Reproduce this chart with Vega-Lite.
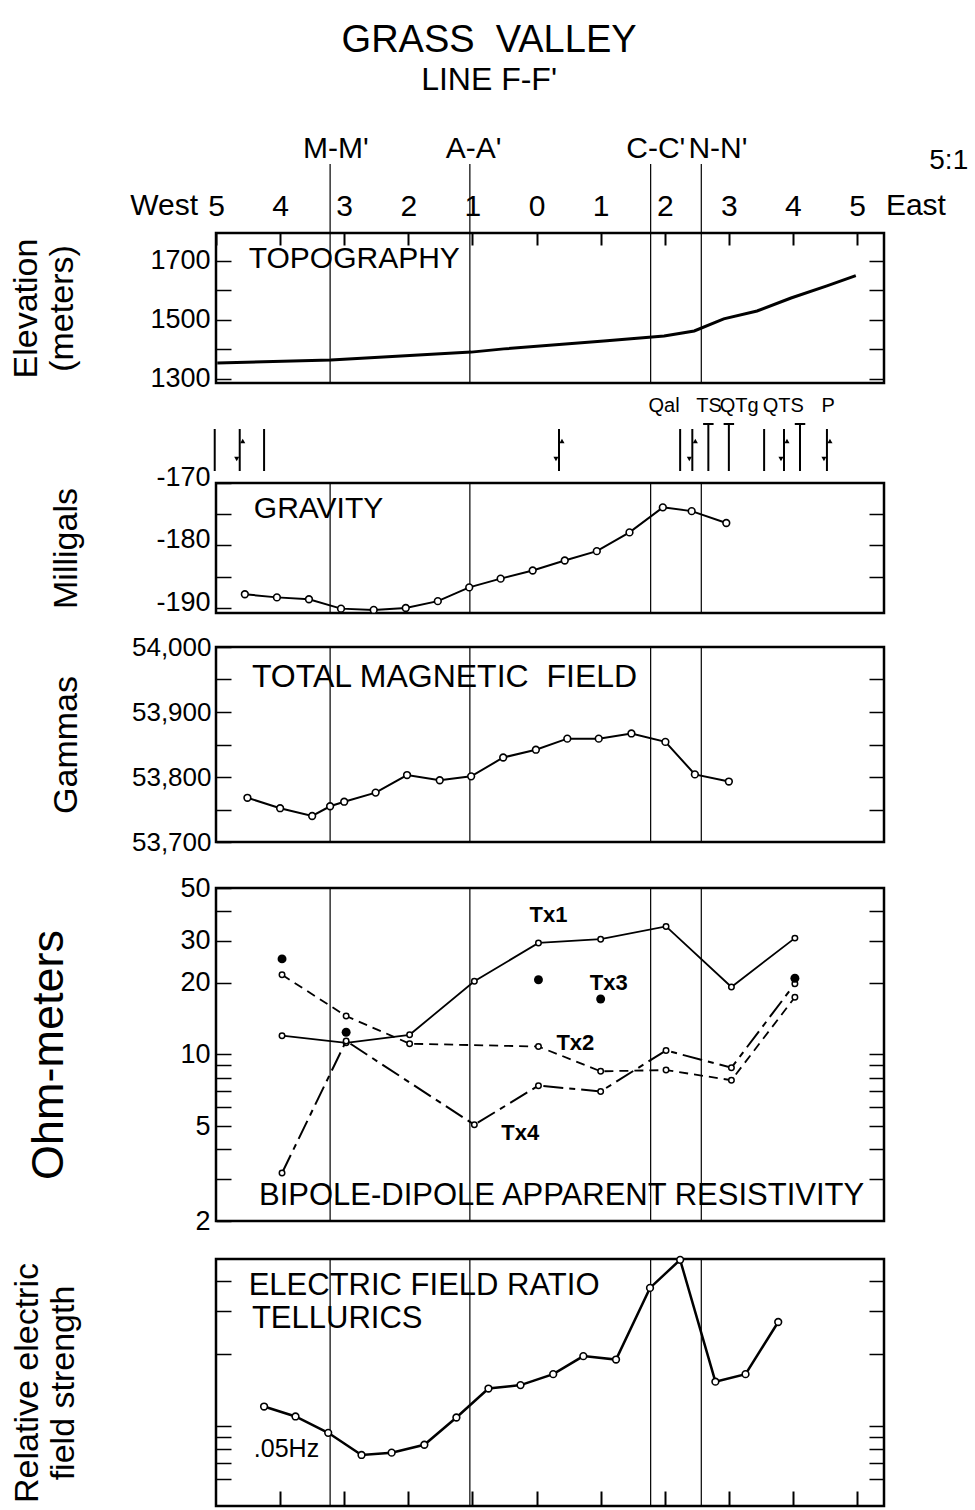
{
  "$schema": "https://vega.github.io/schema/vega-lite/v6.json",
  "padding": {"left": 8, "top": 21, "right": 5, "bottom": 0},
  "background": "white",
  "config": {
    "font": "Liberation Sans",
    "view": {"stroke": "black", "strokeWidth": 2.5},
    "axis": {"labelFont": "Liberation Sans", "titleFont": "Liberation Sans", "labelColor": "black", "titleColor": "black", "tickColor": "black", "domain": false, "grid": false, "titleFontWeight": "normal", "labelFontSize": 26, "titleFontSize": 34, "tickWidth": 1.5, "labelOverlap": false, "labelFlush": false},
    "text": {"font": "Liberation Sans", "color": "black"},
    "title": {"color": "black", "subtitleColor": "black", "font": "Liberation Sans", "subtitleFont": "Liberation Sans", "fontWeight": "normal"}
  },
  "title": {"text": "GRASS\u00a0\u00a0VALLEY", "subtitle": "LINE F-F'", "fontSize": 38, "subtitleFontSize": 32, "anchor": "middle", "offset": 37, "subtitlePadding": 5, "dx": 0},
  "spacing": 1,
  "datasets": {
    "markers": [{"km": -3.22}, {"km": -1.04}, {"km": 1.78}, {"km": 2.57}],
    "markerLabels": [{"km": -3.13, "name": "M-M'"}, {"km": -0.98, "name": "A-A'"}, {"km": 1.86, "name": "C-C'"}, {"km": 2.83, "name": "N-N'"}],
    "notes": [{"km": -5.28, "text": "West"}, {"km": 5.45, "text": "East"}, {"km": 6.43, "text": "5:1"}],
    "topo": [
      {"km": -4.98, "elev": 1353}, {"km": -3.21, "elev": 1363}, {"km": -1.02, "elev": 1390}, {"km": -0.51, "elev": 1401},
      {"km": 1.05, "elev": 1428}, {"km": 1.99, "elev": 1445}, {"km": 2.46, "elev": 1462}, {"km": 2.92, "elev": 1503},
      {"km": 3.44, "elev": 1530}, {"km": 3.97, "elev": 1574}, {"km": 4.53, "elev": 1615}, {"km": 4.98, "elev": 1650}
    ],
    "faults": [
      {"km": -5.02, "kind": "plain"}, {"km": -4.63, "kind": "arrow"}, {"km": -4.25, "kind": "plain"},
      {"km": 0.35, "kind": "arrow"}, {"km": 2.24, "kind": "plain"}, {"km": 2.43, "kind": "arrow"},
      {"km": 2.68, "kind": "contact"}, {"km": 3.0, "kind": "contact"}, {"km": 3.55, "kind": "plain"},
      {"km": 3.86, "kind": "arrow"}, {"km": 4.11, "kind": "contact"}, {"km": 4.53, "kind": "arrow"}
    ],
    "faultLabels": [{"km": 1.99, "label": "Qal"}, {"km": 2.69, "label": "TS"}, {"km": 3.16, "label": "QTg"}, {"km": 3.85, "label": "QTS"}, {"km": 4.55, "label": "P"}],
    "gravity": [
      {"km": -4.55, "mgal": -187.8}, {"km": -4.05, "mgal": -188.3}, {"km": -3.55, "mgal": -188.6}, {"km": -3.05, "mgal": -190.1},
      {"km": -2.54, "mgal": -190.3}, {"km": -2.04, "mgal": -190.0}, {"km": -1.54, "mgal": -188.9}, {"km": -1.05, "mgal": -186.7},
      {"km": -0.56, "mgal": -185.3}, {"km": -0.06, "mgal": -184.0}, {"km": 0.44, "mgal": -182.4}, {"km": 0.94, "mgal": -180.9},
      {"km": 1.45, "mgal": -177.9}, {"km": 1.97, "mgal": -173.9}, {"km": 2.42, "mgal": -174.5}, {"km": 2.96, "mgal": -176.4}
    ],
    "magnetic": [
      {"km": -4.51, "gammas": 53768}, {"km": -4.0, "gammas": 53752}, {"km": -3.5, "gammas": 53740}, {"km": -3.22, "gammas": 53755},
      {"km": -3.0, "gammas": 53762}, {"km": -2.51, "gammas": 53776}, {"km": -2.02, "gammas": 53803}, {"km": -1.51, "gammas": 53795},
      {"km": -1.02, "gammas": 53801}, {"km": -0.52, "gammas": 53830}, {"km": -0.01, "gammas": 53842}, {"km": 0.48, "gammas": 53859},
      {"km": 0.97, "gammas": 53859}, {"km": 1.48, "gammas": 53867}, {"km": 2.01, "gammas": 53854}, {"km": 2.47, "gammas": 53804},
      {"km": 3.0, "gammas": 53793}
    ],
    "resistivity": [
      {"tx": "Tx1", "km": -3.97, "ohm": 12.0}, {"tx": "Tx1", "km": -2.97, "ohm": 11.2}, {"tx": "Tx1", "km": -1.98, "ohm": 12.1},
      {"tx": "Tx1", "km": -0.97, "ohm": 20.3}, {"tx": "Tx1", "km": 0.03, "ohm": 29.4}, {"tx": "Tx1", "km": 1.0, "ohm": 30.5},
      {"tx": "Tx1", "km": 2.02, "ohm": 34.5}, {"tx": "Tx1", "km": 3.04, "ohm": 19.2}, {"tx": "Tx1", "km": 4.03, "ohm": 30.8},
      {"tx": "Tx2", "km": -3.97, "ohm": 21.6}, {"tx": "Tx2", "km": -2.97, "ohm": 14.5}, {"tx": "Tx2", "km": -1.98, "ohm": 11.1},
      {"tx": "Tx2", "km": 0.03, "ohm": 10.8}, {"tx": "Tx2", "km": 1.0, "ohm": 8.5}, {"tx": "Tx2", "km": 2.02, "ohm": 8.6},
      {"tx": "Tx2", "km": 3.04, "ohm": 7.8}, {"tx": "Tx2", "km": 4.03, "ohm": 17.4},
      {"tx": "Tx3", "km": -3.97, "ohm": 25.2}, {"tx": "Tx3", "km": -2.97, "ohm": 12.4}, {"tx": "Tx3", "km": 0.03, "ohm": 20.6},
      {"tx": "Tx3", "km": 1.0, "ohm": 17.1}, {"tx": "Tx3", "km": 4.03, "ohm": 20.9},
      {"tx": "Tx4", "km": -3.97, "ohm": 3.18}, {"tx": "Tx4", "km": -2.97, "ohm": 11.4}, {"tx": "Tx4", "km": -0.97, "ohm": 5.07},
      {"tx": "Tx4", "km": 0.03, "ohm": 7.4}, {"tx": "Tx4", "km": 1.0, "ohm": 7.0}, {"tx": "Tx4", "km": 2.02, "ohm": 10.4},
      {"tx": "Tx4", "km": 3.04, "ohm": 8.8}, {"tx": "Tx4", "km": 4.03, "ohm": 19.8}
    ],
    "txLabels": [{"km": -0.11, "ohm": 38.5, "label": "Tx1"}, {"km": 0.31, "ohm": 11.2, "label": "Tx2"}, {"km": 0.83, "ohm": 19.9, "label": "Tx3"}, {"km": -0.55, "ohm": 4.68, "label": "Tx4"}],
    "tellurics": [
      {"km": -4.25, "ratio": 1.205}, {"km": -3.76, "ratio": 1.096}, {"km": -3.25, "ratio": 0.937}, {"km": -2.73, "ratio": 0.758},
      {"km": -2.26, "ratio": 0.775}, {"km": -1.75, "ratio": 0.836}, {"km": -1.25, "ratio": 1.085}, {"km": -0.75, "ratio": 1.432},
      {"km": -0.25, "ratio": 1.48}, {"km": 0.26, "ratio": 1.643}, {"km": 0.73, "ratio": 1.953}, {"km": 1.24, "ratio": 1.89},
      {"km": 1.77, "ratio": 3.754}, {"km": 2.24, "ratio": 4.91}, {"km": 2.79, "ratio": 1.529}, {"km": 3.26, "ratio": 1.643},
      {"km": 3.77, "ratio": 2.708}
    ]
  },
  "vconcat": [
    {
      "width": 668, "height": 150,
      "encoding": {"x": {"field": "km", "type": "quantitative", "scale": {"domain": [-5, 5.42], "nice": false, "zero": false},
        "axis": {"orient": "top", "values": [-5, -4, -3, -2, -1, 0, 1, 2, 3, 4, 5], "labelExpr": "'' + abs(datum.value)", "tickSize": -12, "tickWidth": 2, "labelPadding": 24, "labelFontSize": 30, "title": null}}},
      "resolve": {"axis": {"y": "independent"}},
      "layer": [
        {"data": {"name": "markers"}, "mark": {"type": "rule", "color": "black", "strokeWidth": 1.2},
         "encoding": {"y": {"datum": 1285, "type": "quantitative", "scale": {"domain": [1285, 1795], "nice": false, "zero": false}, "axis": null}, "y2": {"datum": 2030}}},
        {"data": {"name": "markerLabels"}, "mark": {"type": "text", "fontSize": 30, "align": "center", "baseline": "middle"},
         "encoding": {"y": {"datum": 2081, "type": "quantitative", "scale": {"domain": [1285, 1795], "nice": false, "zero": false}, "axis": null}, "text": {"field": "name"}}},
        {"data": {"name": "notes"}, "transform": [{"filter": "datum.text == 'West'"}], "mark": {"type": "text", "fontSize": 30, "align": "right", "baseline": "middle"},
         "encoding": {"y": {"datum": 1887, "type": "quantitative", "scale": {"domain": [1285, 1795], "nice": false, "zero": false}, "axis": null}, "text": {"field": "text"}}},
        {"data": {"name": "notes"}, "transform": [{"filter": "datum.text == 'East'"}], "mark": {"type": "text", "fontSize": 30, "align": "left", "baseline": "middle"},
         "encoding": {"y": {"datum": 1887, "type": "quantitative", "scale": {"domain": [1285, 1795], "nice": false, "zero": false}, "axis": null}, "text": {"field": "text"}}},
        {"data": {"name": "notes"}, "transform": [{"filter": "datum.text == '5:1'"}], "mark": {"type": "text", "fontSize": 28, "align": "center", "baseline": "middle"},
         "encoding": {"y": {"datum": 2040, "type": "quantitative", "scale": {"domain": [1285, 1795], "nice": false, "zero": false}, "axis": null}, "text": {"field": "text"}}},
        {"data": {"name": "topo"}, "mark": {"type": "line", "color": "black", "strokeWidth": 3},
         "encoding": {"y": {"field": "elev", "type": "quantitative", "scale": {"domain": [1285, 1795], "nice": false, "zero": false},
           "axis": {"orient": "left", "values": [1300, 1400, 1500, 1600, 1700], "format": "d", "labelExpr": "datum.value == 1400 || datum.value == 1600 ? '' : datum.label", "tickSize": -15, "labelPadding": 21, "labelFontSize": 27, "title": ["Elevation", "(meters)"], "titlePadding": 70}}}},
        {"data": {"values": [{"km": -4.49, "text": "TOPOGRAPHY"}]}, "mark": {"type": "text", "fontSize": 30, "align": "left", "baseline": "middle"},
         "encoding": {"y": {"datum": 1707, "type": "quantitative", "scale": {"domain": [1285, 1795], "nice": false, "zero": false},
           "axis": {"orient": "right", "values": [1300, 1400, 1500, 1600, 1700], "labels": false, "tickSize": -15, "title": null}}, "text": {"field": "text"}}}
      ]
    },
    {
      "width": 668, "height": 130,
      "encoding": {"x": {"field": "km", "type": "quantitative", "scale": {"domain": [-5, 5.42], "nice": false, "zero": false}, "axis": null}},
      "resolve": {"axis": {"y": "independent"}},
      "layer": [
        {"data": {"name": "markers"}, "mark": {"type": "rule", "color": "black", "strokeWidth": 1.2}, "encoding": {}},
        {"data": {"name": "faults"}, "transform": [{"filter": "datum.kind != 'contact'"}], "mark": {"type": "rule", "color": "black", "strokeWidth": 2},
         "encoding": {"y": {"datum": -161.36, "type": "quantitative", "scale": {"domain": [-190.8, -170], "nice": false, "zero": false}, "axis": null}, "y2": {"datum": -168.08}}},
        {"data": {"name": "faults"}, "transform": [{"filter": "datum.kind == 'contact'"}], "mark": {"type": "rule", "color": "black", "strokeWidth": 2},
         "encoding": {"y": {"datum": -160.56, "type": "quantitative", "scale": {"domain": [-190.8, -170], "nice": false, "zero": false}, "axis": null}, "y2": {"datum": -168.08}}},
        {"data": {"name": "faults"}, "transform": [{"filter": "datum.kind == 'contact'"}], "mark": {"type": "point", "shape": "stroke", "color": "black", "size": 110, "strokeWidth": 2, "opacity": 1},
         "encoding": {"y": {"datum": -160.56, "type": "quantitative", "scale": {"domain": [-190.8, -170], "nice": false, "zero": false}, "axis": null}}},
        {"data": {"name": "faults"}, "transform": [{"filter": "datum.kind == 'arrow'"}], "mark": {"type": "point", "shape": "triangle-down", "filled": true, "color": "black", "size": 26, "xOffset": -3, "opacity": 1},
         "encoding": {"y": {"datum": -166.16, "type": "quantitative", "scale": {"domain": [-190.8, -170], "nice": false, "zero": false}, "axis": null}}},
        {"data": {"name": "faults"}, "transform": [{"filter": "datum.kind == 'arrow'"}], "mark": {"type": "point", "shape": "triangle-up", "filled": true, "color": "black", "size": 26, "xOffset": 3, "opacity": 1},
         "encoding": {"y": {"datum": -163.28, "type": "quantitative", "scale": {"domain": [-190.8, -170], "nice": false, "zero": false}, "axis": null}}},
        {"data": {"name": "faultLabels"}, "mark": {"type": "text", "fontSize": 20, "align": "center", "baseline": "middle"},
         "encoding": {"y": {"datum": -157.68, "type": "quantitative", "scale": {"domain": [-190.8, -170], "nice": false, "zero": false}, "axis": null}, "text": {"field": "label"}}},
        {"data": {"name": "gravity"}, "mark": {"type": "line", "color": "black", "strokeWidth": 2, "point": {"filled": false, "fill": "white", "size": 45, "strokeWidth": 1.6, "color": "black", "opacity": 1}},
         "encoding": {"y": {"field": "mgal", "type": "quantitative", "scale": {"domain": [-190.8, -170], "nice": false, "zero": false},
           "axis": {"orient": "left", "values": [-190, -185, -180, -175, -170], "labelExpr": "datum.value % 10 == 0 ? '-' + abs(datum.value) : ''", "tickSize": -15, "labelPadding": 21, "labelOffset": -6, "labelFontSize": 27, "title": "Milligals", "titlePadding": 72}}}},
        {"data": {"values": [{"km": -4.41, "text": "GRAVITY"}]}, "mark": {"type": "text", "fontSize": 30, "align": "left", "baseline": "middle"},
         "encoding": {"y": {"datum": -174.16, "type": "quantitative", "scale": {"domain": [-190.8, -170], "nice": false, "zero": false},
           "axis": {"orient": "right", "values": [-185, -180, -175], "labels": false, "tickSize": -15, "title": null}}, "text": {"field": "text"}}}
      ]
    },
    {
      "width": 668, "height": 195,
      "title": {"text": " ", "fontSize": 13, "offset": 0},
      "encoding": {"x": {"field": "km", "type": "quantitative", "scale": {"domain": [-5, 5.42], "nice": false, "zero": false}, "axis": null}},
      "resolve": {"axis": {"y": "independent"}},
      "layer": [
        {"data": {"name": "markers"}, "mark": {"type": "rule", "color": "black", "strokeWidth": 1.2}, "encoding": {}},
        {"data": {"name": "magnetic"}, "mark": {"type": "line", "color": "black", "strokeWidth": 2, "point": {"filled": false, "fill": "white", "size": 45, "strokeWidth": 1.6, "color": "black", "opacity": 1}},
         "encoding": {"y": {"field": "gammas", "type": "quantitative", "scale": {"domain": [53700, 54000], "nice": false, "zero": false},
           "axis": {"orient": "left", "values": [53700, 53750, 53800, 53850, 53900, 53950, 54000], "labelExpr": "datum.value % 100 == 0 ? format(datum.value, ',') : ''", "tickSize": -15, "labelPadding": 20, "labelFontSize": 26, "title": "Gammas", "titlePadding": 48}}}},
        {"data": {"values": [{"km": -4.44, "text": "TOTAL MAGNETIC\u00a0\u00a0FIELD"}]}, "mark": {"type": "text", "fontSize": 32, "align": "left", "baseline": "middle"},
         "encoding": {"y": {"datum": 53954, "type": "quantitative", "scale": {"domain": [53700, 54000], "nice": false, "zero": false},
           "axis": {"orient": "right", "values": [53750, 53800, 53850, 53900, 53950], "labels": false, "tickSize": -15, "title": null}}, "text": {"field": "text"}}}
      ]
    },
    {
      "width": 668, "height": 333,
      "title": {"text": " ", "fontSize": 14, "offset": 0},
      "encoding": {"x": {"field": "km", "type": "quantitative", "scale": {"domain": [-5, 5.42], "nice": false, "zero": false}, "axis": null}},
      "resolve": {"axis": {"y": "independent"}},
      "layer": [
        {"data": {"name": "markers"}, "mark": {"type": "rule", "color": "black", "strokeWidth": 1.2}, "encoding": {}},
        {"data": {"name": "resistivity"}, "transform": [{"filter": "datum.tx == 'Tx1'"}],
         "mark": {"type": "line", "color": "black", "strokeWidth": 1.8, "point": {"filled": false, "fill": "white", "size": 30, "strokeWidth": 1.5, "color": "black", "opacity": 1}},
         "encoding": {"y": {"field": "ohm", "type": "quantitative", "scale": {"type": "log", "domain": [2, 50], "nice": false},
           "axis": {"orient": "left", "values": [2, 3, 4, 5, 6, 7, 8, 9, 10, 20, 30, 40, 50], "labelExpr": "indexof([2, 5, 10, 20, 30, 50], datum.value) >= 0 ? '' + datum.value : ''", "tickSize": -15, "labelPadding": 21, "labelFontSize": 27, "title": "Ohm-meters", "titlePadding": 108, "titleFontSize": 45}}}},
        {"data": {"name": "resistivity"}, "transform": [{"filter": "datum.tx == 'Tx2'"}],
         "mark": {"type": "line", "color": "black", "strokeWidth": 1.8, "strokeDash": [9, 6], "point": {"filled": false, "fill": "white", "size": 30, "strokeWidth": 1.5, "color": "black", "opacity": 1}},
         "encoding": {"y": {"field": "ohm", "type": "quantitative", "scale": {"type": "log", "domain": [2, 50], "nice": false}, "axis": null}}},
        {"data": {"name": "resistivity"}, "transform": [{"filter": "datum.tx == 'Tx4'"}],
         "mark": {"type": "line", "color": "black", "strokeWidth": 2, "strokeDash": [20, 6, 6, 6], "point": {"filled": false, "fill": "white", "size": 30, "strokeWidth": 1.5, "color": "black", "opacity": 1}},
         "encoding": {"y": {"field": "ohm", "type": "quantitative", "scale": {"type": "log", "domain": [2, 50], "nice": false}, "axis": null}}},
        {"data": {"name": "resistivity"}, "transform": [{"filter": "datum.tx == 'Tx3'"}],
         "mark": {"type": "point", "filled": true, "color": "black", "size": 80, "opacity": 1},
         "encoding": {"y": {"field": "ohm", "type": "quantitative", "scale": {"type": "log", "domain": [2, 50], "nice": false}, "axis": null}}},
        {"data": {"name": "txLabels"}, "mark": {"type": "text", "fontSize": 22, "fontWeight": "bold", "align": "left", "baseline": "middle"},
         "encoding": {"y": {"field": "ohm", "type": "quantitative", "scale": {"type": "log", "domain": [2, 50], "nice": false}, "axis": null}, "text": {"field": "label"}}},
        {"data": {"values": [{"km": -4.33, "text": "BIPOLE-DIPOLE APPARENT RESISTIVITY"}]}, "mark": {"type": "text", "fontSize": 31, "align": "left", "baseline": "middle"},
         "encoding": {"y": {"datum": 2.55, "type": "quantitative", "scale": {"type": "log", "domain": [2, 50], "nice": false},
           "axis": {"orient": "right", "values": [3, 4, 5, 6, 7, 8, 9, 10, 20, 30, 40], "labels": false, "tickSize": -15, "title": null}}, "text": {"field": "text"}}}
      ]
    },
    {
      "width": 668, "height": 247,
      "title": {"text": " ", "fontSize": 15, "offset": 0},
      "encoding": {"x": {"field": "km", "type": "quantitative", "scale": {"domain": [-5, 5.42], "nice": false, "zero": false},
        "axis": {"orient": "bottom", "values": [-4, -3, -2, -1, 0, 1, 2, 3, 4, 5], "labels": false, "tickSize": -15, "tickWidth": 2, "title": null}}},
      "resolve": {"axis": {"y": "independent"}},
      "layer": [
        {"data": {"name": "markers"}, "mark": {"type": "rule", "color": "black", "strokeWidth": 1.2}, "encoding": {}},
        {"data": {"name": "tellurics"}, "mark": {"type": "line", "color": "black", "strokeWidth": 2.5, "point": {"filled": false, "fill": "white", "size": 45, "strokeWidth": 1.6, "color": "black", "opacity": 1}},
         "encoding": {"y": {"field": "ratio", "type": "quantitative", "scale": {"type": "log", "domain": [0.465, 4.95], "nice": false},
           "axis": {"orient": "left", "values": [0.6, 0.7, 0.8, 0.9, 1, 2, 3, 4], "labels": false, "tickSize": -15, "title": ["Relative electric", "field strength"], "titlePadding": 135}}}},
        {"data": {"values": [{"km": -4.49, "ratio": 3.82, "text": "ELECTRIC FIELD RATIO"}, {"km": -4.44, "ratio": 2.79, "text": "TELLURICS"}]},
         "mark": {"type": "text", "fontSize": 31, "align": "left", "baseline": "middle"},
         "encoding": {"y": {"field": "ratio", "type": "quantitative", "scale": {"type": "log", "domain": [0.465, 4.95], "nice": false}, "axis": null}, "text": {"field": "text"}}},
        {"data": {"values": [{"km": -4.41, "text": ".05Hz"}]}, "mark": {"type": "text", "fontSize": 25, "align": "left", "baseline": "middle"},
         "encoding": {"y": {"datum": 0.8, "type": "quantitative", "scale": {"type": "log", "domain": [0.465, 4.95], "nice": false},
           "axis": {"orient": "right", "values": [0.6, 0.7, 0.8, 0.9, 1, 2, 3, 4], "labels": false, "tickSize": -15, "title": null}}, "text": {"field": "text"}}}
      ]
    }
  ]
}
